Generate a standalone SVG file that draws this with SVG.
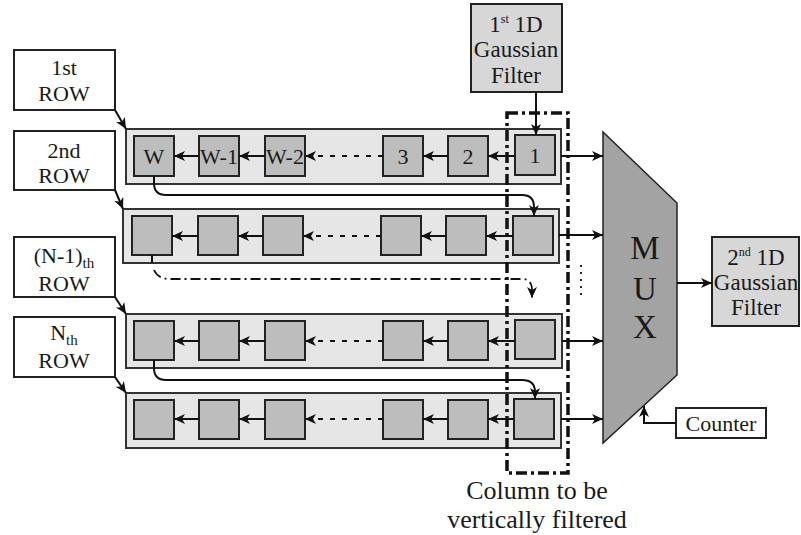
<svg xmlns="http://www.w3.org/2000/svg" width="801" height="535" viewBox="0 0 801 535">
<defs>
<marker id="ah" markerUnits="userSpaceOnUse" markerWidth="12" markerHeight="10" refX="11" refY="5" orient="auto">
<path d="M0,0 L11,5 L0,10 L3,5 z" fill="#111"/>
</marker>
<style>
text{font-family:'Liberation Serif',serif;fill:#1a1a1a;text-anchor:middle}
.lbl{fill:#fff;stroke:#222;stroke-width:2}
.row{fill:#e6e6e6;stroke:#333;stroke-width:2}
.cell{fill:#bdbdbd;stroke:#222;stroke-width:2}
.flt{fill:#d7d7d7;stroke:#222;stroke-width:2}
.ln{stroke:#111;stroke-width:2;fill:none}
.dot{stroke:#111;stroke-width:2;fill:none;stroke-dasharray:5 7}
.dd{stroke:#111;stroke-width:1.8;fill:none;stroke-dasharray:10 4 2 4}
.col{stroke:#111;stroke-width:3.5;fill:none;stroke-dasharray:11 4 3 4}
.t22{font-size:22px}
</style>
</defs>

<g id="label-1st">
<rect class="lbl" x="14" y="50" width="101" height="60"/>
<text class="t22" x="64" y="75">1st</text>
<text class="t22" x="64" y="101">ROW</text>
</g>
<g id="label-2nd">
<rect class="lbl" x="14" y="131" width="101" height="59"/>
<text class="t22" x="64" y="158">2nd</text>
<text class="t22" x="64" y="183">ROW</text>
</g>
<g id="label-n1">
<rect class="lbl" x="14" y="237" width="101" height="60"/>
<text class="t22" x="64" y="263">(N-1)<tspan font-size="15" dy="5">th</tspan></text>
<text class="t22" x="64" y="291">ROW</text>
</g>
<g id="label-n">
<rect class="lbl" x="14" y="317" width="101" height="60"/>
<text class="t22" x="64" y="340">N<tspan font-size="15" dy="5">th</tspan></text>
<text class="t22" x="64" y="368">ROW</text>
</g>

<g id="row1">
<rect class="row" x="126" y="129" width="435" height="55"/>
<rect class="cell" x="134" y="136" width="40" height="40"/><text class="t22" x="154" y="164">W</text>
<rect class="cell" x="199" y="136" width="40" height="40"/><text class="t22" x="219" y="164">W-1</text>
<rect class="cell" x="265" y="136" width="40" height="40"/><text class="t22" x="285" y="164">W-2</text>
<rect class="cell" x="383" y="136" width="40" height="40"/><text class="t22" x="403" y="164">3</text>
<rect class="cell" x="448" y="136" width="40" height="40"/><text class="t22" x="468" y="164">2</text>
<rect class="cell" x="515" y="135" width="40" height="40"/><text class="t22" x="535" y="163">1</text>
</g>
<g id="row2">
<rect class="row" x="123" y="209" width="436" height="54"/>
<rect class="cell" x="132" y="216" width="40" height="39"/>
<rect class="cell" x="198" y="216" width="40" height="39"/>
<rect class="cell" x="263" y="216" width="40" height="39"/>
<rect class="cell" x="381" y="216" width="40" height="39"/>
<rect class="cell" x="446" y="216" width="40" height="39"/>
<rect class="cell" x="513" y="216" width="40" height="39"/>
</g>
<g id="row3">
<rect class="row" x="126" y="314" width="436" height="54"/>
<rect class="cell" x="134" y="321" width="40" height="39"/>
<rect class="cell" x="199" y="321" width="40" height="39"/>
<rect class="cell" x="265" y="321" width="40" height="39"/>
<rect class="cell" x="383" y="321" width="40" height="39"/>
<rect class="cell" x="448" y="321" width="40" height="39"/>
<rect class="cell" x="515" y="320" width="40" height="39"/>
</g>
<g id="row4">
<rect class="row" x="126" y="393" width="435" height="55"/>
<rect class="cell" x="134" y="400" width="40" height="39"/>
<rect class="cell" x="199" y="400" width="40" height="39"/>
<rect class="cell" x="265" y="400" width="40" height="39"/>
<rect class="cell" x="383" y="400" width="40" height="39"/>
<rect class="cell" x="448" y="400" width="40" height="39"/>
<rect class="cell" x="514" y="399" width="40" height="40"/>
</g>

<g id="filter1">
<rect class="flt" x="471" y="4" width="91" height="88"/>
<text x="516" y="32" font-size="23">1<tspan font-size="12" dy="-9">st</tspan><tspan dy="9"> 1D</tspan></text>
<text x="516" y="57" font-size="23">Gaussian</text>
<text x="516" y="83" font-size="23">Filter</text>
</g>

<g id="mux">
<path d="M603,132 L677,203 L677,375 L603,443 z" fill="#a3a3a3" stroke="#222" stroke-width="1.5"/>
<text x="645" y="259" font-size="33">M</text>
<text x="645" y="300" font-size="33">U</text>
<text x="645" y="338" font-size="33">X</text>
</g>

<g id="filter2">
<rect class="flt" x="712" y="237" width="87" height="89"/>
<text x="756" y="265" font-size="23">2<tspan font-size="12" dy="-9">nd</tspan><tspan dy="9"> 1D</tspan></text>
<text x="756" y="290" font-size="23">Gaussian</text>
<text x="756" y="315" font-size="23">Filter</text>
</g>

<g id="counter">
<rect class="lbl" x="676" y="408" width="90" height="30"/>
<text x="721" y="431" font-size="22">Counter</text>
</g>

<g id="column">
<rect class="col" x="507" y="113" width="61" height="360"/>
<text x="537" y="499" font-size="26">Column to be</text>
<text x="537" y="528" font-size="26">vertically filtered</text>
</g>

<g id="connectors">
<line class="ln" x1="115" y1="110" x2="126" y2="129" marker-end="url(#ah)"/>
<line class="ln" x1="115" y1="190" x2="123" y2="209" marker-end="url(#ah)"/>
<line class="ln" x1="115" y1="297" x2="126" y2="314" marker-end="url(#ah)"/>
<line class="ln" x1="115" y1="377" x2="126" y2="393" marker-end="url(#ah)"/>

<line class="ln" x1="536" y1="92" x2="536" y2="135" marker-end="url(#ah)"/>

<line class="ln" x1="515" y1="156" x2="488" y2="156" marker-end="url(#ah)"/>
<line class="ln" x1="448" y1="156" x2="423" y2="156" marker-end="url(#ah)"/>
<line class="dot" x1="383" y1="156" x2="305" y2="156" marker-end="url(#ah)"/>
<line class="ln" x1="265" y1="156" x2="239" y2="156" marker-end="url(#ah)"/>
<line class="ln" x1="199" y1="156" x2="174" y2="156" marker-end="url(#ah)"/>

<line class="ln" x1="513" y1="236" x2="486" y2="236" marker-end="url(#ah)"/>
<line class="ln" x1="446" y1="236" x2="421" y2="236" marker-end="url(#ah)"/>
<line class="dot" x1="381" y1="236" x2="303" y2="236" marker-end="url(#ah)"/>
<line class="ln" x1="263" y1="236" x2="238" y2="236" marker-end="url(#ah)"/>
<line class="ln" x1="198" y1="236" x2="172" y2="236" marker-end="url(#ah)"/>

<line class="ln" x1="515" y1="341" x2="488" y2="341" marker-end="url(#ah)"/>
<line class="ln" x1="448" y1="341" x2="423" y2="341" marker-end="url(#ah)"/>
<line class="dot" x1="383" y1="341" x2="305" y2="341" marker-end="url(#ah)"/>
<line class="ln" x1="265" y1="341" x2="239" y2="341" marker-end="url(#ah)"/>
<line class="ln" x1="199" y1="341" x2="174" y2="341" marker-end="url(#ah)"/>

<line class="ln" x1="514" y1="419" x2="488" y2="419" marker-end="url(#ah)"/>
<line class="ln" x1="448" y1="419" x2="423" y2="419" marker-end="url(#ah)"/>
<line class="dot" x1="383" y1="419" x2="305" y2="419" marker-end="url(#ah)"/>
<line class="ln" x1="265" y1="419" x2="239" y2="419" marker-end="url(#ah)"/>
<line class="ln" x1="199" y1="419" x2="174" y2="419" marker-end="url(#ah)"/>

<path class="ln" d="M154,176 L154,183 Q154,195 166,195 L522,195 Q534,195 534,207 L534,216" marker-end="url(#ah)"/>
<line class="ln" x1="152" y1="255" x2="152" y2="263"/>
<path class="dd" d="M154,270 Q158,279 170,279 L522,279 Q532,279 532,290 L532,298" marker-end="url(#ah)"/>
<path class="ln" d="M154,360 L154,368 Q154,380 166,380 L522,380 Q535,380 535,392 L535,399" marker-end="url(#ah)"/>

<line class="ln" x1="561" y1="156" x2="603" y2="156" marker-end="url(#ah)"/>
<line class="ln" x1="559" y1="235" x2="603" y2="235" marker-end="url(#ah)"/>
<line class="ln" x1="562" y1="341" x2="603" y2="341" marker-end="url(#ah)"/>
<line class="ln" x1="561" y1="419" x2="603" y2="419" marker-end="url(#ah)"/>
<line x1="581" y1="265" x2="581" y2="300" stroke="#111" stroke-width="1.8" stroke-dasharray="2 5"/>

<line class="ln" x1="677" y1="283" x2="712" y2="283" marker-end="url(#ah)"/>
<polyline class="ln" points="676,423 644,423 644,406" marker-end="url(#ah)"/>
</g>
</svg>
